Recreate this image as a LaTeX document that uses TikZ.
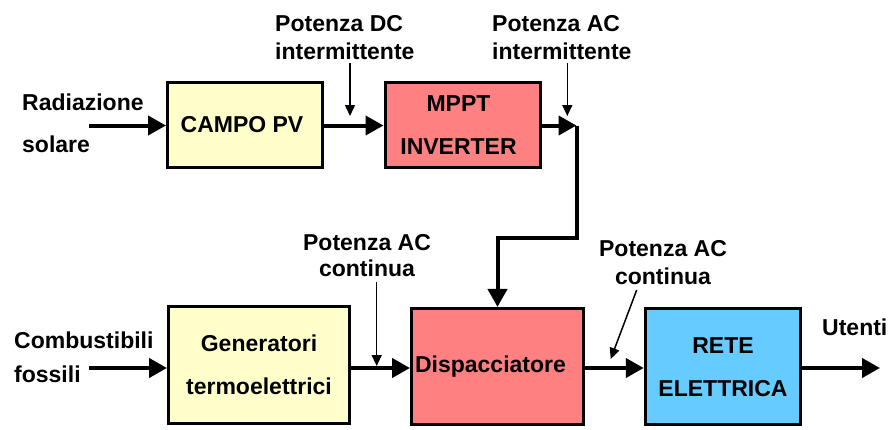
\documentclass[tikz,border=0pt]{standalone}
\usepackage{fontspec}
\setmainfont{Liberation Sans}
\usetikzlibrary{arrows.meta}

\definecolor{pvyellow}{HTML}{FFFFCC}
\definecolor{convred}{HTML}{FF8080}
\definecolor{gridblue}{HTML}{66CCFF}

\begin{document}
\begin{tikzpicture}[x=1pt,y=-1pt,
  txt/.style={font=\bfseries\fontsize{23}{#1}\selectfont, inner sep=0pt},
  txt/.default=27.5,
  block/.style={draw, line width=3pt, inner sep=0pt, align=center,
                font=\bfseries\fontsize{23}{43}\selectfont},
  flow/.style={line width=4pt, -{Triangle[length=18pt,width=19pt]}},
  pointer/.style={line width=1.5pt, -{Triangle[length=11pt,width=10pt]}}]

\useasboundingbox (0,0) rectangle (895,429);

% blocks
\node[block, fill=pvyellow, minimum width=155pt, minimum height=85pt] (pv) at (245,124.7) {\hspace*{-6pt}CAMPO PV};
\node[block, fill=convred, minimum width=155pt, minimum height=85pt] (inv) at (462.5,124.7) {\hspace*{-8pt}MPPT\\\hspace*{-8pt}INVERTER};
\node[block, fill=pvyellow, minimum width=181pt, minimum height=116.5pt] (gen) at (259,365) {Generatori\\termoelettrici};
\node[block, fill=convred, minimum width=172pt, minimum height=116.5pt] (disp) at (497.5,366.7) {\hspace*{-14pt}Dispacciatore};
\node[block, fill=gridblue, minimum width=155.5pt, minimum height=116.5pt] (grid) at (723,366.7) {RETE\\ELETTRICA};

% side labels (anchored at the baseline of the last line)
\node[txt=42, anchor=base west, align=left] (rad) at (22,152) {Radiazione\\solare};
\node[txt=34, anchor=base west, align=left] (fuel) at (14,382) {Combustibili\\fossili};
\node[txt, anchor=base west] (users) at (822,335) {Utenti};

% power labels
\node[txt, anchor=base west, align=left] (pdc) at (275,59.3) {Potenza DC\\intermittente};
\node[txt, anchor=base west, align=left] (paci) at (492,59.3) {Potenza AC\\intermittente};
\node[txt=25.5, anchor=base, align=center] (pacc1) at (367,276) {Potenza AC\\continua};
\node[txt, anchor=base, align=center] (pacc2) at (663,284) {Potenza AC\\continua};

% main power flow
\coordinate (radin) at (89,125.5);
\coordinate (fuelin) at (89,368);
\coordinate (corner) at (576.5,125.5);
\coordinate (bend) at (576.5,238);
\coordinate (usersout) at (880,368);

\draw[flow] (radin) -- (radin -| pv.west);
\draw[flow] (pv.east |- radin) -- (inv.west |- radin);
\draw[flow] (inv.east |- corner) -- (corner);
\draw[flow, line join=miter] (corner) -- (bend) -| (disp.north);
\draw[flow] (fuelin) -- (fuelin -| gen.west);
\draw[flow] (gen.east |- fuelin) -- (disp.west |- fuelin);
\draw[flow] (disp.east |- fuelin) -- (grid.west |- fuelin);
\draw[flow] (grid.east |- fuelin) -- (usersout);

% label pointers
\coordinate (p1a) at (350,63);   \coordinate (p1b) at (350,116);
\coordinate (p2a) at (567.3,63); \coordinate (p2b) at (567.3,116);
\coordinate (p3a) at (376.7,282); \coordinate (p3b) at (376.7,366);
\coordinate (p4a) at (636.7,290); \coordinate (p4b) at (610.7,359);
\draw[pointer] (p1a) -- (p1b);
\draw[pointer] (p2a) -- (p2b);
\draw[pointer] (p3a) -- (p3b);
\draw[pointer] (p4a) -- (p4b);
\end{tikzpicture}
\end{document}
